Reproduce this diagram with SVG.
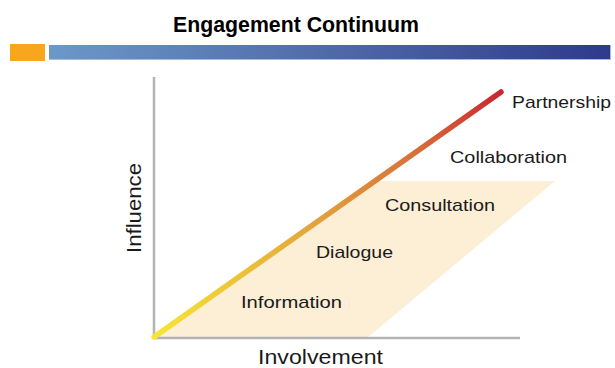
<svg xmlns="http://www.w3.org/2000/svg" width="615" height="368" viewBox="0 0 615 368">
<style>
.lbl{font-family:"Liberation Sans",Arial,sans-serif;font-size:17px;fill:#1a1a1a}
.ax{stroke:#b2b2b7;stroke-width:2.5;fill:none}
.axl{font-family:"Liberation Sans",Arial,sans-serif;font-size:21px;fill:#1a1a1a}
</style>
<defs>
<linearGradient id="bar" x1="0" y1="0" x2="1" y2="0">
<stop offset="0" stop-color="#6c98c9"/>
<stop offset="0.5" stop-color="#4f6aa9"/>
<stop offset="1" stop-color="#2d3a8d"/>
</linearGradient>
<linearGradient id="diag" gradientUnits="userSpaceOnUse" x1="154" y1="338" x2="501" y2="92">
<stop offset="0" stop-color="#f7e633"/>
<stop offset="0.45" stop-color="#e3a63c"/>
<stop offset="0.75" stop-color="#d9703a"/>
<stop offset="1" stop-color="#c9262f"/>
</linearGradient>
</defs>
<rect width="615" height="368" fill="#ffffff"/>
<g id="title">
<text x="296" y="32" text-anchor="middle" font-family="'Liberation Sans',Arial,sans-serif" font-weight="bold" font-size="21.5" textLength="246" lengthAdjust="spacingAndGlyphs" fill="#000">Engagement Continuum</text>
</g>
<g id="header-bar">
<rect x="10" y="44" width="35" height="17" fill="#f8a71c"/>
<rect x="49" y="45" width="562" height="15" fill="#a9b8dd"/>
<rect x="49" y="45" width="561" height="14" fill="url(#bar)"/>
</g>
<g id="region">
<polygon points="154,338 367,338 555,181 375,181" fill="#fdeed6"/>
</g>
<g id="connectors">
<line class="ax" x1="154" y1="77" x2="154" y2="339"/>
<line class="ax" x1="153" y1="338" x2="520" y2="338"/>
<line x1="154" y1="337" x2="501" y2="92" stroke="url(#diag)" stroke-width="5.5" stroke-linecap="round"/>
</g>
<g id="axis-y"><text class="axl" transform="translate(141,208) rotate(-90)" text-anchor="middle" textLength="90" lengthAdjust="spacingAndGlyphs">Influence</text></g>
<g id="axis-x"><text class="axl" x="258" y="364" textLength="125" lengthAdjust="spacingAndGlyphs">Involvement</text></g>
<g id="information"><text class="lbl" x="241" y="308" textLength="101" lengthAdjust="spacingAndGlyphs">Information</text></g>
<g id="dialogue"><text class="lbl" x="316" y="258" textLength="77" lengthAdjust="spacingAndGlyphs">Dialogue</text></g>
<g id="consultation"><text class="lbl" x="385" y="211" textLength="110" lengthAdjust="spacingAndGlyphs">Consultation</text></g>
<g id="collaboration"><text class="lbl" x="450" y="163" textLength="117" lengthAdjust="spacingAndGlyphs">Collaboration</text></g>
<g id="partnership"><text class="lbl" x="512" y="108" textLength="99" lengthAdjust="spacingAndGlyphs">Partnership</text></g>
</svg>
